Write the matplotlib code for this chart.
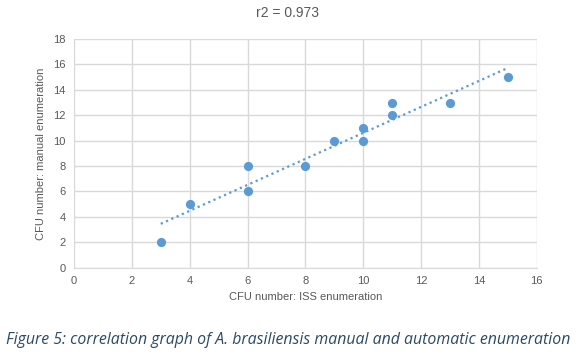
import matplotlib
matplotlib.use("Agg")
import matplotlib.pyplot as plt
import numpy as np

iss = [3, 4, 6, 6, 8, 9, 10, 10, 11, 11, 13, 15]
manual = [2, 5, 8, 6, 8, 10, 11, 10, 13, 12, 13, 15]
x_ticks = [0, 2, 4, 6, 8, 10, 12, 14, 16]
y_ticks = [0, 2, 4, 6, 8, 10, 12, 14, 16, 18]

plt.rcParams['font.family'] = ['Liberation Sans', 'DejaVu Sans']

fig = plt.figure(figsize=(5.76, 3.58), dpi=100)
ax = fig.add_axes([74/576, 1-267.7/358, (536.7-74)/576, (267.7-39)/358])

blue = '#5b9bd5'
grid_c = '#d9d9d9'
txt_c = '#595959'

x = np.array(iss, dtype=float)
y = np.array(manual, dtype=float)
m, b = np.polyfit(x, y, 1)
xl = np.array([x.min(), x.max()])
ax.plot(xl, m*xl + b, linestyle=(0, (1, 1.6)), color=blue, linewidth=1.6, zorder=2)
ax.scatter(x, y, s=44, color=blue, zorder=3, linewidths=0)

ax.set_xlim(0, 16)
ax.set_ylim(0, 18)
ax.set_xticks(x_ticks)
ax.set_yticks(y_ticks)
ax.grid(True, color=grid_c, linewidth=1)
ax.set_axisbelow(True)
for s in ['top', 'left', 'right']:
    ax.spines[s].set_visible(False)
ax.spines['bottom'].set_color(grid_c)
ax.tick_params(length=0, labelsize=8, colors=txt_c, pad=6)
ax.set_xlabel('CFU number: ISS enumeration', fontsize=8, color=txt_c, labelpad=4)
ax.set_ylabel('CFU number: manual enumeration', fontsize=8, color=txt_c, labelpad=5)

fig.text(0.5, 1-13/358, 'r2 = 0.973', ha='center', va='center', fontsize=10, color=txt_c)
fig.text(0.5, 1-340/358, 'Figure 5: correlation graph of A. brasiliensis manual and automatic enumeration',
         ha='center', va='center', fontsize=11.4, color='#2b4a66', style='italic',
         family=['Open Sans', 'DejaVu Sans'])

fig.savefig('out.png', dpi=100)
